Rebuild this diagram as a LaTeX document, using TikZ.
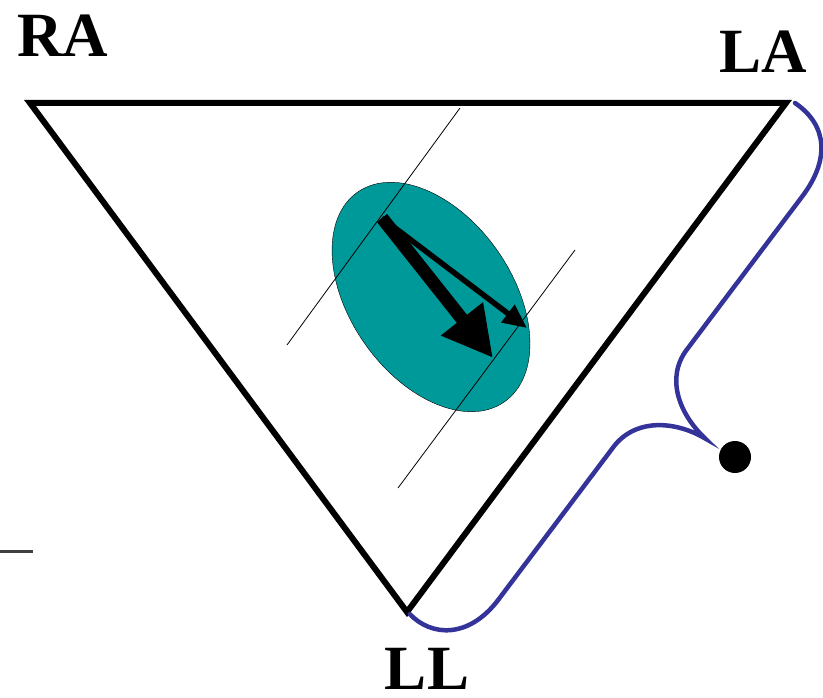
\documentclass[tikz,border=0pt]{standalone}
\usepackage{fontspec}
\setmainfont{Liberation Serif}
\usetikzlibrary{arrows.meta,shapes.geometric}
\definecolor{heartteal}{RGB}{0,153,153}
\definecolor{braceblue}{RGB}{51,51,153}

\begin{document}
\begin{tikzpicture}[x=1pt, y=-1pt,
  limb/.style={font=\fontsize{63}{70}\selectfont\bfseries, inner sep=0pt, anchor=base},
  side/.style={line width=6pt, line join=miter},
  axisline/.style={line width=0.8pt},
  vector/.style={draw=black}]
\useasboundingbox (0,0) rectangle (823,698);

% Einthoven triangle
\coordinate (RA) at (30,103);
\coordinate (LA) at (786,103);
\coordinate (LL) at (407,612);
\draw[side] (RA) -- (LA) -- (LL) -- cycle;

% Limb labels
\node[limb] (raLabel) at (63,57) {RA};
\node[limb] (laLabel) at (763,73) {LA};
\node[limb] (llLabel) at (427,689) {LL};

% Heart
\node[ellipse, draw, fill=heartteal, minimum width=256pt, minimum height=162pt,
      rotate=-55, inner sep=0pt] (heart) at (431,297) {};

% Projection lines
\coordinate (projTopA) at (460,108);
\coordinate (projBotA) at (287,345);
\coordinate (projTopB) at (575,250);
\coordinate (projBotB) at (398,488);
\draw[axisline] (projTopA) -- (projBotA);
\draw[axisline] (projTopB) -- (projBotB);

% Heart vectors
\coordinate (origin) at (382,218);
\coordinate (bigTip) at (493,358);
\coordinate (smallTip) at (527,328);
\draw[vector, line width=13pt, -{Triangle[length=50pt,width=50pt]}] (origin) -- (bigTip);
\draw[vector, line width=5.5pt, -{Triangle[length=24pt,width=21pt]}] (origin) -- (smallTip);

% Lead brace along LA--LL
\begin{scope}[shift={(795,103)}, rotate=233]
  \draw[braceblue, line width=4.5pt, line cap=round]
    (0,0) .. controls (-2,-40) and (25,-62) .. (70,-62)
    -- (262,-62) .. controls (298,-62) and (318,-95) .. (322,-130)
    .. controls (326,-95) and (348,-62) .. (384,-62)
    -- (575,-62) .. controls (625,-62) and (645,-30) .. (640,0);
\end{scope}

% Electrode dot
\node[circle, fill=black, minimum size=32pt, inner sep=0pt] (dot) at (735,457) {};

% stray mark
\draw[line width=3pt, black!75] (0,551) -- (33,551);

\end{tikzpicture}
\end{document}
